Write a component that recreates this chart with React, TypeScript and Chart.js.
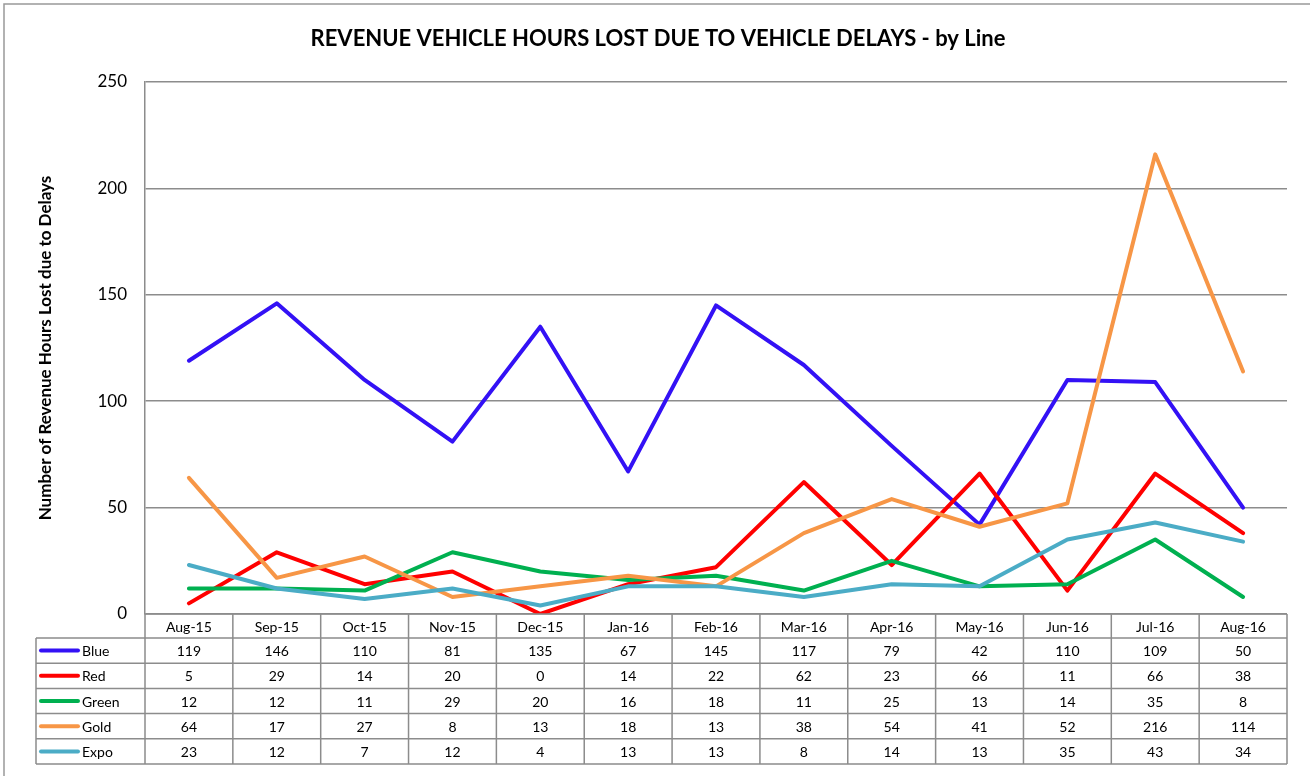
import React, { useEffect, useRef } from "react";
import { Chart, registerables } from "chart.js";

Chart.register(...registerables);

const categories = ["Aug-15", "Sep-15", "Oct-15", "Nov-15", "Dec-15", "Jan-16", "Feb-16", "Mar-16", "Apr-16", "May-16", "Jun-16", "Jul-16", "Aug-16"];
const blue = [119, 146, 110, 81, 135, 67, 145, 117, 79, 42, 110, 109, 50];
const red = [5, 29, 14, 20, 0, 14, 22, 62, 23, 66, 11, 66, 38];
const green = [12, 12, 11, 29, 20, 16, 18, 11, 25, 13, 14, 35, 8];
const gold = [64, 17, 27, 8, 13, 18, 13, 38, 54, 41, 52, 216, 114];
const expo = [23, 12, 7, 12, 4, 13, 13, 8, 14, 13, 35, 43, 34];
const seriesNames = ["Blue", "Red", "Green", "Gold", "Expo"];
const seriesColors = ["#3311F5", "#FF0000", "#00B050", "#F79646", "#4BACC6"];
const seriesData = [blue, red, green, gold, expo];

const TITLE = "REVENUE VEHICLE HOURS LOST DUE TO VEHICLE DELAYS - by Line";
const Y_TITLE = "Number of Revenue Hours Lost due to Delays";
const FONT = "Lato, 'Liberation Sans', sans-serif";

const decorPlugin = {
  id: "decor",
  beforeDraw(chart: any) {
    const ctx = chart.ctx;
    ctx.save();
    ctx.fillStyle = "#ffffff";
    ctx.fillRect(0, 0, chart.width, chart.height);
    ctx.strokeStyle = "#999999";
    ctx.lineWidth = 1.5;
    ctx.strokeRect(4, 4, chart.width + 20, chart.height + 20);
    ctx.restore();
  },
  afterDraw(chart: any) {
    const ctx = chart.ctx;
    const area = chart.chartArea;
    const xs = chart.scales.x;
    ctx.save();
    // Title
    ctx.fillStyle = "#000";
    ctx.font = `bold 22px ${FONT}`;
    ctx.textAlign = "center";
    ctx.textBaseline = "middle";
    ctx.fillText(TITLE, 658, 39);
    // Y title
    ctx.save();
    ctx.translate(46, (area.top + area.bottom) / 2);
    ctx.rotate(-Math.PI / 2);
    ctx.font = `bold 17px ${FONT}`;
    ctx.fillText(Y_TITLE, 0, 0);
    ctx.restore();

    // Table
    const n = categories.length;
    const colW = (area.right - area.left) / n;
    const headTop = area.bottom;
    const headH = 24;
    const rowH = 25.2;
    const legendLeft = 36;
    const rowsTop = headTop + headH;
    const rowsBottom = rowsTop + rowH * seriesNames.length;
    ctx.strokeStyle = "#8c8c8c";
    ctx.lineWidth = 1.5;
    ctx.beginPath();
    ctx.moveTo(area.left, headTop);
    ctx.lineTo(area.right, headTop);
    for (let i = 0; i <= n; i++) {
      const x = area.left + i * colW;
      ctx.moveTo(x, headTop);
      ctx.lineTo(x, rowsBottom);
    }
    ctx.moveTo(legendLeft, rowsTop);
    ctx.lineTo(legendLeft, rowsBottom);
    for (let r = 0; r <= seriesNames.length; r++) {
      const y = rowsTop + r * rowH;
      ctx.moveTo(legendLeft, y);
      ctx.lineTo(area.right, y);
    }
    ctx.stroke();

    ctx.fillStyle = "#000";
    ctx.font = `14px ${FONT}`;
    ctx.textAlign = "center";
    ctx.textBaseline = "middle";
    for (let i = 0; i < n; i++) {
      const cx = xs.getPixelForValue(i);
      ctx.fillText(categories[i], cx, headTop + headH / 2 + 1);
      for (let r = 0; r < seriesNames.length; r++) {
        ctx.fillText(String(seriesData[r][i]), cx, rowsTop + r * rowH + rowH / 2 + 1);
      }
    }
    for (let r = 0; r < seriesNames.length; r++) {
      const cy = rowsTop + r * rowH + rowH / 2;
      ctx.strokeStyle = seriesColors[r];
      ctx.lineWidth = 4;
      ctx.lineCap = "round";
      ctx.beginPath();
      ctx.moveTo(41, cy);
      ctx.lineTo(78, cy);
      ctx.stroke();
      ctx.fillStyle = "#000";
      ctx.textAlign = "left";
      ctx.fillText(seriesNames[r], 82, cy + 1);
    }
    ctx.restore();
  },
};

export default function App() {
  const ref = useRef<HTMLCanvasElement | null>(null);
  useEffect(() => {
    document.body.style.margin = "0";
    if (!ref.current) return;
    const chart = new Chart(ref.current, {
      type: "line",
      data: {
        labels: categories,
        datasets: seriesData.map((d, i) => ({
          label: seriesNames[i],
          data: d,
          borderColor: seriesColors[i],
          backgroundColor: seriesColors[i],
          borderWidth: 4,
          pointRadius: 0,
          tension: 0,
          borderJoinStyle: "round" as const,
          borderCapStyle: "round" as const,
          order: seriesNames.length - i,
        })),
      },
      options: {
        responsive: false,
        animation: false,
        devicePixelRatio: 1,
        layout: { padding: { left: 0, right: 23, top: 82, bottom: 162 } },
        plugins: {
          legend: { display: false },
          title: { display: false },
          tooltip: { enabled: false },
        },
        scales: {
          x: {
            type: "category",
            display: false,
            offset: true,
            grid: { display: false },
          },
          y: {
            min: 0,
            max: 250,
            ticks: {
              stepSize: 50,
              color: "#000",
              font: { family: FONT, size: 17 },
              padding: 18,
            },
            grid: { color: "#8c8c8c", lineWidth: 1.5, drawTicks: false },
            border: { display: true, color: "#8c8c8c", width: 1.5 },
            afterFit(scale: any) {
              scale.width = 145;
            },
          },
        },
      },
      plugins: [decorPlugin],
    });
    return () => chart.destroy();
  }, []);
  return (
    <div style={{ position: "absolute", left: 0, top: 0, width: 1310, height: 776 }}>
      <canvas ref={ref} width={1310} height={776} style={{ width: 1310, height: 776, display: "block" }} />
    </div>
  );
}
